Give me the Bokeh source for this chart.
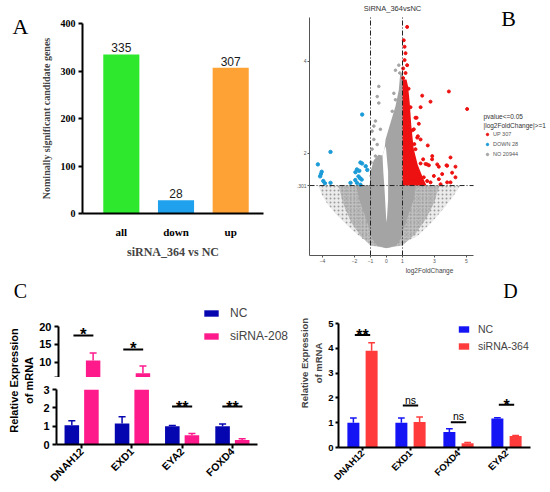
import math
from bokeh.plotting import figure
from bokeh.layouts import row, column
from bokeh.models import (Range1d, FactorRange, FixedTicker, Label, Legend,
                          LegendItem, ColumnDataSource, LinearAxis)
from bokeh.transform import dodge
from bokeh.core.properties import value
from bokeh.embed import file_html
from bokeh.resources import INLINE

SANS = "Liberation Sans"
SERIF = "Liberation Serif"

# ---------------- Panel A data ----------------
a_categories = ["all", "down", "up"]
a_counts = [335, 28, 307]
a_colors = ["#2de82d", "#1fa1ee", "#ffa236"]
a_yticks = [0, 100, 200, 300, 400]

# ---------------- Panel B data (volcano) ----------------
b_sparse_x = [-4.25, -4.06, -3.69, -3.12, -2.25, -1.5, -0.81, 0.0, 0.75, 1.94, 2.87, 3.56, 4.19, 4.62]
b_sparse_y = [1.30, 1.12, 0.90, 0.67, 0.37, 0.15, 0.0, -0.04, 0.0, 0.21, 0.52, 0.80, 1.08, 1.30]
b_mid_x = [-3.0, -2.7, -2.2, -1.6, -1.0, 0.0, 1.0, 1.8, 2.5, 3.0, 3.3]
b_mid_y = [1.30, 0.9, 0.5, 0.2, 0.0, -0.05, 0.0, 0.25, 0.6, 0.95, 1.30]
b_core_lo_x = [-1.9, -1.7, -1.4, -1.1, -0.9, -0.6, 0.0, 0.6, 0.9, 1.1, 1.4, 1.7, 1.85]
b_core_lo_y = [1.30, 1.0, 0.7, 0.4, 0.15, 0.0, -0.06, 0.0, 0.15, 0.4, 0.7, 1.0, 1.30]
b_core_hi_x = [-1.05, -1.0, -0.8, -0.5, -0.25, -0.12, -0.06, 0.25, 0.56, 0.77, 0.85, 0.95, 1.0, 1.0]
b_core_hi_y = [1.30, 1.6, 1.85, 1.97, 1.95, 2.1, 2.3, 2.66, 3.02, 3.38, 3.7, 3.75, 3.7, 1.30]
b_notch_x = [-0.25, -0.12, -0.04, 0.1, 0.1, 0.03, 0.0, -0.04, -0.12, -0.2]
b_notch_y = [1.95, 2.1, 2.15, 1.6, 1.0, 0.6, 0.5, 0.7, 1.2, 1.6]
b_grey_x = [-0.48, -0.58, -0.48, 0.36, 0.63, -0.69, -0.79, -0.9, -0.38, -0.79, -0.58, -0.9,
            0.46, 0.56, 0.77, 0.83, 0.56, -0.69, -0.96, -0.79, -0.96]
b_grey_y = [3.45, 3.23, 3.09, 2.91, 2.87, 2.70, 2.59, 2.48, 2.52, 2.30, 2.19, 2.09,
            3.30, 3.16, 3.91, 3.74, 3.80, 1.94, 1.80, 1.66, 1.51]
b_upzone_x = [1.0, 2.5, 2.3, 1.95, 1.7, 1.55, 1.45, 1.35, 1.25, 1.0]
b_upzone_y = [1.30, 1.30, 1.45, 1.75, 2.1, 2.6, 3.1, 3.45, 3.6, 3.6]
b_up_x = [1.29, 1.08, 1.13, 1.19, 1.13, 1.29, 1.04, 1.19, 1.04, 1.38, 1.5, 1.62, 1.74,
          3.9, 2.23, 2.75, 2.13, 5.04, 1.81, 2.02, 1.71, 1.92, 2.13, 2.58, 1.81, 2.86, 4.0,
          2.29, 2.85, 2.13, 2.44, 2.65, 3.17, 3.79, 3.27, 4.31, 3.48, 4.1, 4.31, 2.96, 3.27,
          3.79, 4.0, 2.54, 2.33, 2.75, 2.02, 1.71, 1.5, 1.92, 3.38, 1.88, 1.96, 2.54, 3.75]
b_up_y = [4.74, 4.45, 4.31, 4.17, 4.02, 3.91, 3.84, 3.74, 3.63, 3.4, 3.0, 2.5, 2.2,
          3.34, 3.25, 3.12, 3.0, 2.96, 2.77, 2.64, 2.52, 2.34, 2.3, 2.17, 2.09, 1.94, 1.91,
          1.87, 1.87, 1.78, 1.77, 1.74, 1.76, 1.73, 1.71, 1.71, 1.55, 1.58, 1.48, 1.51, 1.44,
          1.37, 1.37, 1.40, 1.48, 1.37, 1.51, 1.55, 1.44, 1.40, 1.33, 2.77, 2.37, 1.76, 1.74]
b_down_x = [-1.52, -3.5, -4.29, -4.1, -4.15, -4.05, -3.95, -3.85, -3.5, -2.25, -1.94, -1.85,
            -1.7, -1.63, -1.53, -1.3, -1.2, -1.75, -1.65, -1.55, -1.95, -1.85, -1.63]
b_down_y = [2.84, 2.03, 1.76, 1.55, 1.5, 1.6, 1.40, 1.35, 1.36, 1.36, 1.59, 1.65,
            1.62, 1.8, 1.78, 1.72, 1.64, 1.5, 1.46, 1.43, 1.42, 1.36, 1.32]
b_xticks = [-4, -2, -1, 0, 1, 3, 5]
b_yticks = [1.301, 2, 4]
b_ytick_labels = [".301", "2", "4"]
b_xbounds = [-4.81, 5.44]
b_ybounds = [-0.215, 4.946]
b_fc_cut = [-1, 1]
b_p_cut = 1.301
b_legend = ["UP 307", "DOWN 28", "NO 20944"]

# ---------------- Panel C data ----------------
c_genes = ["DNAH12", "EXD1", "EYA2", "FOXD4"]
c_nc = [1.05, 1.15, 1.0, 1.0]
c_nc_err = [0.25, 0.37, 0.03, 0.12]
c_si = [10.5, 7.0, 0.5, 0.25]
c_si_err = [2.1, 2.0, 0.1, 0.07]
c_sig = ["*", "*", "**", "**"]
c_sig_y = [17.5, 13.6, 2.07, 2.07]
c_break = 5.8          # lower end of the upper axis segment
c_lower_top = 3        # upper end of the lower axis segment
c_upper_ticks = [5.8, 10, 15, 20]
c_lower_ticks = [0, 1, 2, 3]

# ---------------- Panel D data ----------------
d_genes = ["DNAH12", "EXD1", "FOXD4", "EYA2"]
d_nc = [1.0, 1.0, 0.63, 1.17]
d_nc_err = [0.19, 0.19, 0.13, 0.03]
d_si = [3.9, 1.03, 0.17, 0.46]
d_si_err = [0.32, 0.2, 0.03, 0.02]
d_sig = ["**", "ns", "ns", "*"]
d_sig_y = [4.54, 1.69, 1.02, 1.72]
d_yticks = [0, 1, 2, 3, 4, 5]


def base_fig(**kw):
    p = figure(output_backend="svg", toolbar_location=None, **kw)
    p.frame_align = False
    p.outline_line_color = None
    p.grid.visible = False
    p.background_fill_color = "white"
    p.border_fill_color = "white"
    return p


def lab(p, x, y, text, size, font=SANS, style="normal", color="black",
        angle=0.0, align="center", baseline="middle"):
    p.add_layout(Label(x=x, y=y, x_units="screen", y_units="screen", text=text,
                       text_font=font, text_font_size=size, text_font_style=style,
                       text_color=color, angle=angle, text_align=align,
                       text_baseline=baseline))


def style_axis(ax, font, size, style="bold", width=2, tick_out=4, standoff=3, color="black"):
    ax.axis_line_width = width
    ax.axis_line_color = color
    ax.major_tick_line_width = width
    ax.major_tick_line_color = color
    ax.major_tick_out = tick_out
    ax.major_tick_in = 0
    ax.minor_tick_line_color = None
    ax.major_label_text_font = font
    ax.major_label_text_font_size = size
    ax.major_label_text_font_style = style
    ax.major_label_text_color = color
    ax.major_label_standoff = standoff


# ================= Panel A =================
pla = base_fig(width=36, height=276, x_range=Range1d(0, 1), y_range=Range1d(0, 1),
               x_axis_location=None, y_axis_location=None, min_border=0)
lab(pla, 20, 250, "A", "22px", font=SERIF)

pa = base_fig(width=244, height=276, x_range=Range1d(-0.71, 2.6), y_range=Range1d(0, 400),
              min_border_left=46, min_border_right=17, min_border_top=23, min_border_bottom=63)
a_pos = list(range(len(a_categories)))
a_src = ColumnDataSource(dict(x=a_pos, top=a_counts, color=a_colors,
                              label=[str(v) for v in a_counts]))
pa.vbar(x="x", top="top", width=0.66, fill_color="color", line_color=None, source=a_src)
pa.text(x="x", y="top", text="label", source=a_src, text_align="center",
        text_baseline="bottom", y_offset=-2, text_font=value(SANS),
        text_font_size="12px", text_color="#1a1a1a")
ay = pa.yaxis[0]
style_axis(ay, SERIF, "10px")
ay.ticker = FixedTicker(ticks=a_yticks)
ay.axis_label = "Nominally significant candidate genes"
ay.axis_label_text_font = SERIF
ay.axis_label_text_font_style = "bold"
ay.axis_label_text_font_size = "10px"
ay.axis_label_standoff = 6
ax_ = pa.xaxis[0]
style_axis(ax_, SERIF, "11px", standoff=8)
ax_.major_tick_line_color = None
ax_.ticker = FixedTicker(ticks=a_pos)
ax_.major_label_overrides = {i: c for i, c in enumerate(a_categories)}
ax_.axis_label = "siRNA_364 vs NC"
ax_.axis_label_text_font = SERIF
ax_.axis_label_text_font_style = "bold"
ax_.axis_label_text_font_size = "12px"
ax_.axis_label_standoff = 4

# ================= Panel B =================
pb = base_fig(width=269, height=276, x_range=Range1d(-4.8125, 10.1875), y_range=Range1d(-0.215, 5.312),
              min_border_left=29, min_border_right=0, min_border_top=0, min_border_bottom=19)
GREY = "#a4a4a4"
RED = "#ee1111"
BLUE = "#1b9bd7"
pb.patch(b_sparse_x, b_sparse_y, fill_color=GREY, fill_alpha=0.22, line_color=None,
         hatch_pattern="dot", hatch_color="#9c9c9c", hatch_scale=4, hatch_weight=2.6)
pb.patch(b_mid_x, b_mid_y, fill_color=GREY, fill_alpha=0.6, line_color=None,
         hatch_pattern="dot", hatch_color="#9c9c9c", hatch_scale=3, hatch_weight=2.6)
pb.patch(b_core_lo_x, b_core_lo_y, fill_color=GREY, line_color=None)
pb.patch(b_core_hi_x, b_core_hi_y, fill_color=GREY, line_color=None)
pb.patch(b_notch_x, b_notch_y, fill_color="white", line_color=None)
r_grey = pb.scatter(b_grey_x, b_grey_y, size=2.6, color=GREY)
pb.patch(b_upzone_x, b_upzone_y, fill_color=RED, line_color=None)
r_up = pb.scatter(b_up_x, b_up_y, size=3, color=RED)
r_down = pb.scatter(b_down_x, b_down_y, size=3.4, color=BLUE)
pb.segment(x0=b_fc_cut, y0=[b_ybounds[0]] * 2, x1=b_fc_cut, y1=[b_ybounds[1]] * 2,
           line_color="#222222", line_width=1, line_dash="5 2 1 2")
pb.segment(x0=[b_xbounds[0]], y0=[b_p_cut], x1=[b_xbounds[1]], y1=[b_p_cut],
           line_color="#222222", line_width=1, line_dash="5 2 1 2")
by_ = pb.yaxis[0]
style_axis(by_, SANS, "5px", style="normal", width=1, tick_out=2, standoff=1, color="#555555")
by_.ticker = FixedTicker(ticks=b_yticks)
by_.major_label_overrides = dict(zip(b_yticks, b_ytick_labels))
by_.bounds = tuple(b_ybounds)
bx_ = pb.xaxis[0]
style_axis(bx_, SANS, "5px", style="normal", width=1, tick_out=2, standoff=1, color="#555555")
bx_.ticker = FixedTicker(ticks=b_xticks)
bx_.bounds = tuple(b_xbounds)
bx_.axis_label = "log2FoldChange"
bx_.axis_label_text_font = SANS
bx_.axis_label_text_font_size = "6.5px"
bx_.axis_label_text_font_style = "normal"
bx_.axis_label_text_color = "#444444"
bx_.axis_label_standoff = 1
leg_b = Legend(items=[LegendItem(label=b_legend[0], renderers=[r_up]),
                      LegendItem(label=b_legend[1], renderers=[r_down]),
                      LegendItem(label=b_legend[2], renderers=[r_grey])],
               location=(175, 97), label_text_font=SANS, label_text_font_size="5.5px",
               label_text_color="#555555", glyph_width=6, glyph_height=6, label_height=9,
               spacing=1, padding=0, margin=0, label_standoff=3,
               border_line_color=None, background_fill_alpha=0)
pb.add_layout(leg_b)
lab(pb, 174, 139, "pvalue<=0.05", "6.5px", color="#333333", align="left")
lab(pb, 174, 130, "|log2FoldChange|>=1", "6.5px", color="#333333", align="left")
lab(pb, 83, 247, "SiRNA_364vsNC", "7.5px", color="#333333")
lab(pb, 199, 237, "B", "22px", font=SERIF)


# ================= grouped bar helpers =================
def grouped(p, xfield, src, col_nc, col_si, off, width, cap, rng=None):
    kw = {} if rng is None else {"range": rng}
    r1 = p.vbar(x=dodge(xfield, -off, **kw), top="nc", width=width,
                fill_color=col_nc, line_color=None, source=src)
    r2 = p.vbar(x=dodge(xfield, off, **kw), top="si", width=width,
                fill_color=col_si, line_color=None, source=src)
    for o, lo, hi, col in ((-off, "nc", "nc_up", col_nc), (off, "si", "si_up", col_si)):
        p.segment(x0=dodge(xfield, o, **kw), y0=lo, x1=dodge(xfield, o, **kw),
                  y1=hi, line_color=col, line_width=1.5, source=src)
        p.segment(x0=dodge(xfield, o - cap, **kw), y0=hi,
                  x1=dodge(xfield, o + cap, **kw), y1=hi,
                  line_color=col, line_width=1.5, source=src)
    return r1, r2


def sig_marks(p, xs, sig, sig_y, idx, half, star_size, star_off, rng=None, ns_size=None, ns_off=0):
    kw = {} if rng is None else {"range": rng}
    src = ColumnDataSource(dict(g=[xs[i] for i in idx], y=[sig_y[i] for i in idx]))
    p.segment(x0=dodge("g", -half, **kw), y0="y", x1=dodge("g", half, **kw), y1="y",
              line_color="black", line_width=2, source=src)
    st = [i for i in idx if sig[i] != "ns"]
    ssrc = ColumnDataSource(dict(g=[xs[i] for i in st], y=[sig_y[i] for i in st],
                                 t=[sig[i] for i in st]))
    p.text(x="g", y="y", text="t", source=ssrc, text_align="center",
           text_baseline="alphabetic", y_offset=star_off, text_font=value(SANS),
           text_font_size=star_size, text_font_style="bold", text_color="black")
    ns = [i for i in idx if sig[i] == "ns"]
    if ns:
        nsrc = ColumnDataSource(dict(g=[xs[i] for i in ns], y=[sig_y[i] for i in ns],
                                     t=[sig[i] for i in ns]))
        p.text(x="g", y="y", text="t", source=nsrc, text_align="center",
               text_baseline="alphabetic", y_offset=ns_off, text_font=value(SANS),
               text_font_size=ns_size, text_color="black")


# ================= Panel C =================
C_NC = "#0606b0"
C_SI = "#ff1a8c"
c_pos = list(range(len(c_genes)))
c_src = ColumnDataSource(dict(x=c_pos, nc=c_nc, si=c_si,
                              nc_up=[v + e for v, e in zip(c_nc, c_nc_err)],
                              si_up=[v + e for v, e in zip(c_si, c_si_err)]))
c_idx_upper = [i for i, y in enumerate(c_sig_y) if y > c_break]
c_idx_lower = [i for i, y in enumerate(c_sig_y) if y <= c_lower_top]

pcl = base_fig(width=36, height=215, x_range=Range1d(0, 1), y_range=Range1d(0, 1),
               x_axis_location=None, y_axis_location=None, min_border=0)
lab(pcl, 13.5, 111, "Relative Expression", "11px", style="bold", angle=math.pi / 2)
lab(pcl, 28.5, 111, "of mRNA", "11px", style="bold", angle=math.pi / 2)
lab(pcl, 20, 201, "C", "20px", font=SERIF)

# upper segment of the broken axis
pct = base_fig(width=254, height=101, x_range=Range1d(-0.5, 4.157), y_range=Range1d(c_break, 33.93),
               x_axis_location=None, min_border_left=20, min_border_right=0,
               min_border_top=0, min_border_bottom=0)
rn, rs = grouped(pct, "x", c_src, C_NC, C_SI, 0.195, 0.29, 0.07)
sig_marks(pct, c_pos, c_sig, c_sig_y, c_idx_upper, 0.2, "17px", -1)
leg_c = Legend(items=[LegendItem(label="NC", renderers=[rn]),
                      LegendItem(label="siRNA-208", renderers=[rs])],
               location=(144, 34), label_text_font=SANS, label_text_font_size="12px",
               glyph_width=18, glyph_height=8, label_height=14, spacing=9,
               padding=0, margin=0, label_standoff=10,
               border_line_color=None, background_fill_alpha=0)
pct.add_layout(leg_c)

# lower segment of the broken axis
pcb = base_fig(width=254, height=114, x_range=Range1d(-0.5, 3.5), y_range=Range1d(0, c_lower_top),
               min_border_left=20, min_border_right=33, min_border_top=12, min_border_bottom=47)
grouped(pcb, "x", c_src, C_NC, C_SI, 0.195, 0.29, 0.07)
sig_marks(pcb, c_pos, c_sig, c_sig_y, c_idx_lower, 0.2, "16px", 1)

cy1 = pct.yaxis[0]
style_axis(cy1, SANS, "11px")
cy1.ticker = FixedTicker(ticks=c_upper_ticks)
cy1.major_label_overrides = {5.8: ""}
cy1.bounds = (c_break, 20)
cy2 = pcb.yaxis[0]
style_axis(cy2, SANS, "11px")
cy2.ticker = FixedTicker(ticks=c_lower_ticks)
cy2.bounds = (0, c_lower_top)
cx = pcb.xaxis[0]
style_axis(cx, SANS, "10.5px", tick_out=4, standoff=1)
cx.ticker = FixedTicker(ticks=c_pos)
cx.major_label_overrides = {i: g for i, g in enumerate(c_genes)}
cx.major_label_orientation = math.pi / 4

# ================= Panel D =================
D_NC = "#1414f5"
D_SI = "#ff3b3b"
d_src = ColumnDataSource(dict(g=d_genes, nc=d_nc, si=d_si,
                              nc_up=[v + e for v, e in zip(d_nc, d_nc_err)],
                              si_up=[v + e for v, e in zip(d_si, d_si_err)]))
pd_ = base_fig(width=259, height=215, x_range=FactorRange(factors=d_genes),
               y_range=Range1d(0, 6.815), min_border_left=48, min_border_right=19,
               min_border_top=2, min_border_bottom=44)
rn, rs = grouped(pd_, "g", d_src, D_NC, D_SI, 0.19, 0.25, 0.07, rng=pd_.x_range)
sig_marks(pd_, d_genes, d_sig, d_sig_y, list(range(len(d_genes))), 0.16, "16px", 1,
          rng=pd_.x_range, ns_size="10.5px", ns_off=-6)
leg_d = Legend(items=[LegendItem(label="NC", renderers=[rn]),
                      LegendItem(label="siRNA-364", renderers=[rs])],
               location=(119, 95), label_text_font=SANS, label_text_font_size="10.5px",
               glyph_width=13, glyph_height=8, label_height=12, spacing=5,
               padding=0, margin=0, label_standoff=8,
               border_line_color=None, background_fill_alpha=0)
pd_.add_layout(leg_d)
dy = pd_.yaxis[0]
style_axis(dy, SANS, "9.5px", tick_out=3, standoff=2)
dy.ticker = FixedTicker(ticks=d_yticks)
dy.bounds = (0, 5)
dy.axis_label = "of mRNA"
dy.axis_label_text_font = SANS
dy.axis_label_text_font_style = "bold"
dy.axis_label_text_font_size = "9.5px"
dy.axis_label_standoff = 1
dy_outer = LinearAxis(ticker=FixedTicker(ticks=[]), bounds=(0, 5),
                      axis_line_color=None, major_tick_line_color=None,
                      minor_tick_line_color=None, axis_label="Relative Expression",
                      axis_label_text_font=SANS, axis_label_text_font_style="bold",
                      axis_label_text_font_size="9.5px", axis_label_standoff=1)
pd_.add_layout(dy_outer, "left")
dx = pd_.xaxis[0]
style_axis(dx, SANS, "9.5px", tick_out=3, standoff=1)
dx.major_label_orientation = math.pi / 4
lab(pd_, 172, 157, "D", "20px", font=SERIF)

layout = column(row(pla, pa, pb), row(pcl, column(pct, pcb), pd_))
open("out.html", "w").write(file_html(layout, INLINE))
